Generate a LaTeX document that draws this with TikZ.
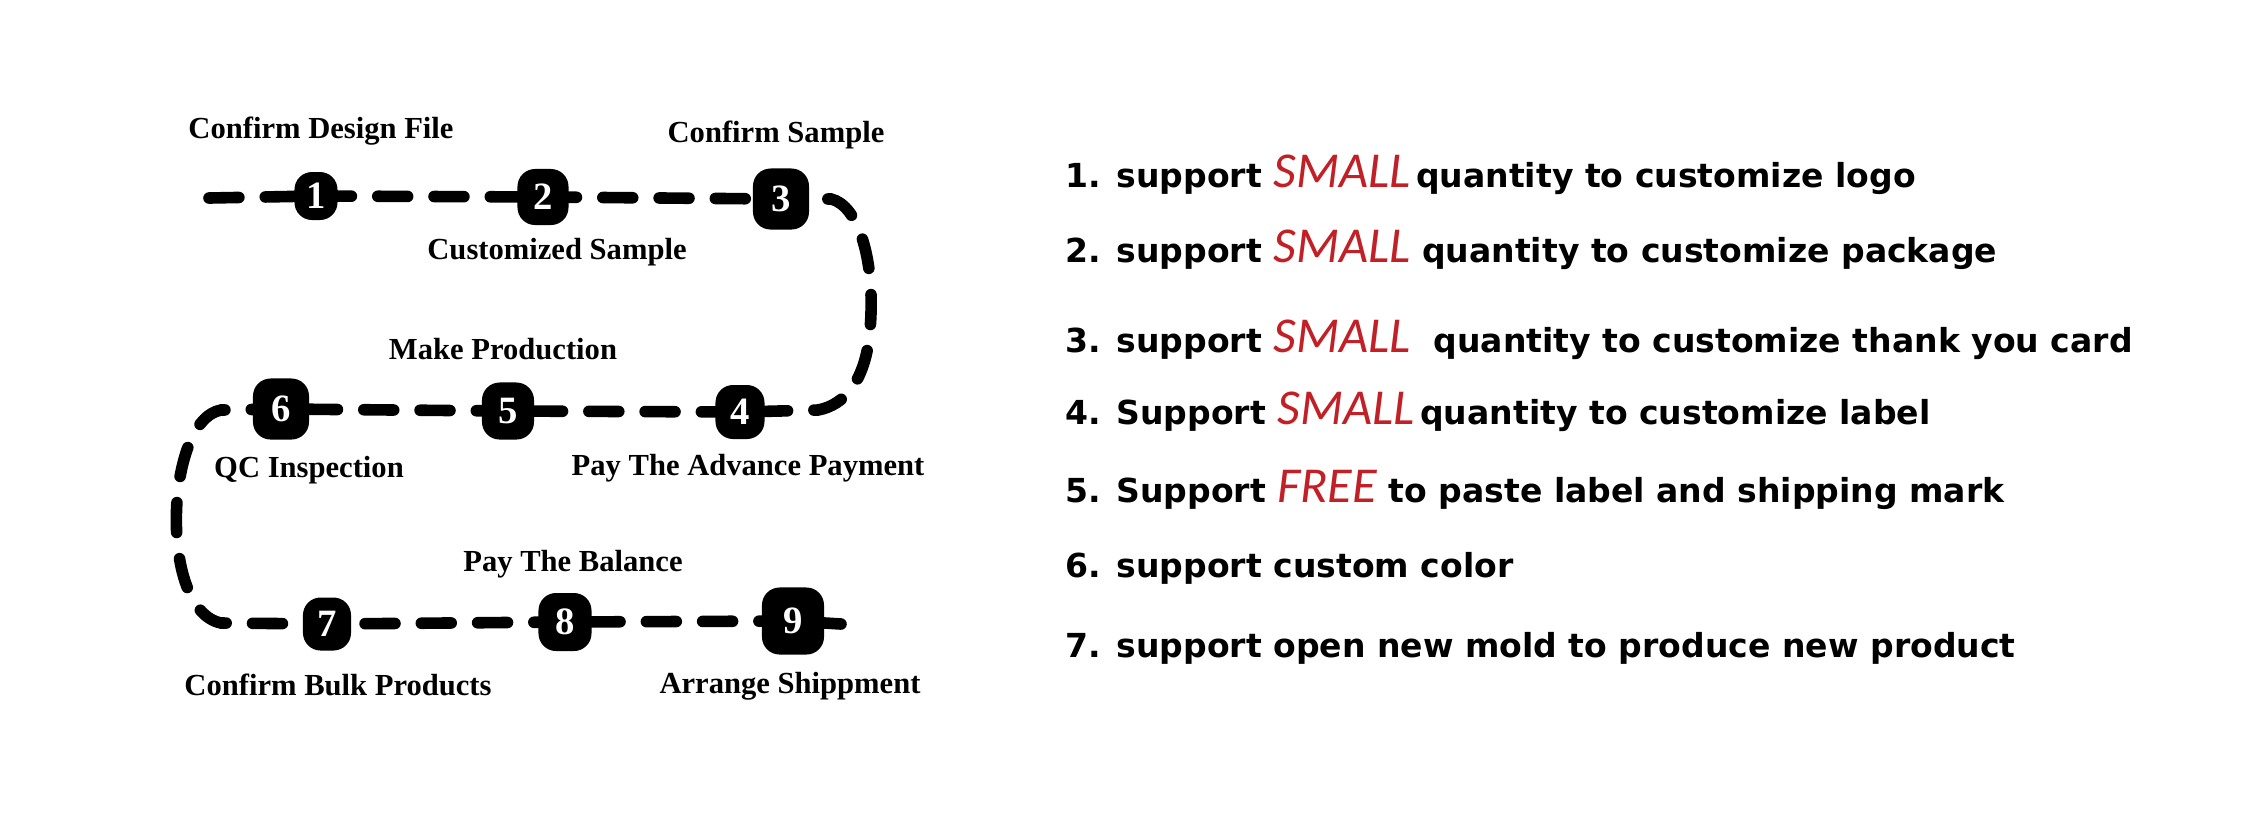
\documentclass[tikz,border=0pt]{standalone}
\usepackage{fontspec}
\setmainfont{Liberation Serif}
\newfontfamily\listfont{DejaVu Sans}
\newfontfamily\handfont{Carlito}
\usetikzlibrary{positioning, backgrounds}
\definecolor{markred}{RGB}{192,32,38}
\newcommand{\redword}[1]{{\handfont\mdseries\itshape\fontsize{14.3}{14}\selectfont\color{markred}#1}}
\tikzset{
    stepbox/.style={rectangle, rounded corners=5pt, fill=black, text=white, font=\bfseries\fontsize{11}{12}\selectfont, inner sep=0pt, minimum width=#1, minimum height={#1+0.05cm}},
    steplabel/.style={font=\bfseries\fontsize{8.7}{10}\selectfont, inner sep=1pt},
    trail/.style={line width=3.3pt, line cap=round, dash pattern=on 8.5pt off 7.5pt},
    listitem/.style={anchor=west, inner sep=0pt, font=\listfont\bfseries\fontsize{9.4}{11}\selectfont},
}

\begin{document}
\begin{tikzpicture}[x=0.01cm, y=-0.01cm]
\useasboundingbox (0,0) rectangle (2262,820);
\node[stepbox=0.43cm] (s1) at (316,196) {1};
\node[stepbox=0.51cm] (s2) at (543,197) {2};
\node[stepbox=0.56cm] (s3) at (781,199) {3};
\node[stepbox=0.49cm] (s4) at (740,412) {4};
\node[stepbox=0.52cm] (s5) at (508,411) {5};
\node[stepbox=0.56cm] (s6) at (281,409) {6};
\node[stepbox=0.48cm] (s7) at (327,624) {7};
\node[stepbox=0.53cm] (s8) at (565,622) {8};
\node[stepbox=0.62cm] (s9) at (793,621) {9};

\node[steplabel,above=0.22cm of s1,xshift=0.05cm] (l1) {Confirm Design File};
\node[steplabel,below=0.08cm of s2,xshift=0.14cm] (l2) {Customized Sample};
\node[steplabel,above=0.15cm of s3,xshift=-0.05cm] (l3) {Confirm Sample};
\node[steplabel,below=0.1cm of s4,xshift=0.08cm] (l4) {Pay The Advance Payment};
\node[steplabel,above=0.18cm of s5,xshift=-0.05cm] (l5) {Make Production};
\node[steplabel,below=0.12cm of s6,xshift=0.28cm] (l6) {QC Inspection};
\node[steplabel,below=0.18cm of s7,xshift=0.11cm] (l7) {Confirm Bulk Products};
\node[steplabel,above=0.1cm of s8,xshift=0.08cm] (l8) {Pay The Balance};
\node[steplabel,below=0.13cm of s9,xshift=-0.03cm] (l9) {Arrange Shippment};

\coordinate (a0) at (209,198);
\coordinate (a1) at (831,199);
\coordinate (a2) at (818,410);
\coordinate (a3) at (221,410);
\coordinate (a4) at (221,623);
\coordinate (a5) at (841,624);
\begin{scope}[on background layer]
\draw[trail] (a0) -- (s1.center) -- (s2.center) -- (s3.center) -- (a1)
  .. controls (858,205) and (876,260) .. (870,330)
  .. controls (866,380) and (845,405) .. (a2)
  -- (s4.center) -- (s5.center) -- (s6.center) -- (a3)
  .. controls (165,420) and (158,610) .. (a4)
  -- (s7.center) -- (s8.center) -- (s9.center) -- (a5);
\end{scope}

\node[listitem] (f1) at (1065,175) {1. support \redword{SMALL}\,quantity to customize logo};
\node[listitem] (f2) at (1065,250) {2. support \redword{SMALL} quantity to customize package};
\node[listitem] (f3) at (1065,340) {3. support \redword{SMALL}\ \ quantity to customize thank you card};
\node[listitem] (f4) at (1065,412) {4. Support \redword{SMALL}\,quantity to customize label};
\node[listitem] (f5) at (1065,490) {5. Support \redword{FREE} to paste label and shipping mark};
\node[listitem] (f6) at (1065,568) {6. support custom color};
\node[listitem] (f7) at (1065,648) {7. support open new mold to produce new product};
\end{tikzpicture}
\end{document}
